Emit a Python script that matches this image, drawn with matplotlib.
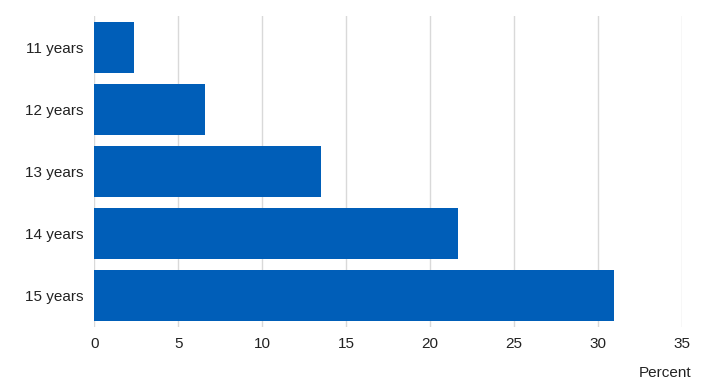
import matplotlib
matplotlib.use("Agg")
import matplotlib.pyplot as plt

categories = ["11 years", "12 years", "13 years", "14 years", "15 years"]
values = [2.35, 6.6, 13.5, 21.7, 31.0]
xticks = [0, 5, 10, 15, 20, 25, 30, 35]

plt.rcParams['font.family'] = ['Liberation Sans', 'DejaVu Sans']

fig = plt.figure(figsize=(7.09, 3.83), dpi=100)
ax = fig.add_axes([94.5/709, 1-327/383, (681.5-94.5)/709, (327-16)/383])

ypos = list(range(len(categories)))
ax.barh(ypos, values, height=0.82, color="#005EB8", zorder=3)
ax.set_ylim(len(categories)-0.5, -0.5)
ax.set_xlim(0, 35)
ax.set_yticks(ypos)
ax.set_yticklabels(categories, fontsize=11, color="#222222")
ax.set_xticks(xticks)
ax.set_xticklabels([str(t) for t in xticks], fontsize=11, color="#222222")
ax.tick_params(axis='x', length=0, pad=7.5)
ax.tick_params(axis='y', length=0, pad=8)
ax.grid(axis='x', color="#d9d9d9", linewidth=1, zorder=0)
for s in ax.spines.values():
    s.set_visible(False)

fig.text(691/709, 1-373/383, "Percent", ha='right', va='center', fontsize=11, color="#222222")

fig.savefig("out.png", dpi=100)
